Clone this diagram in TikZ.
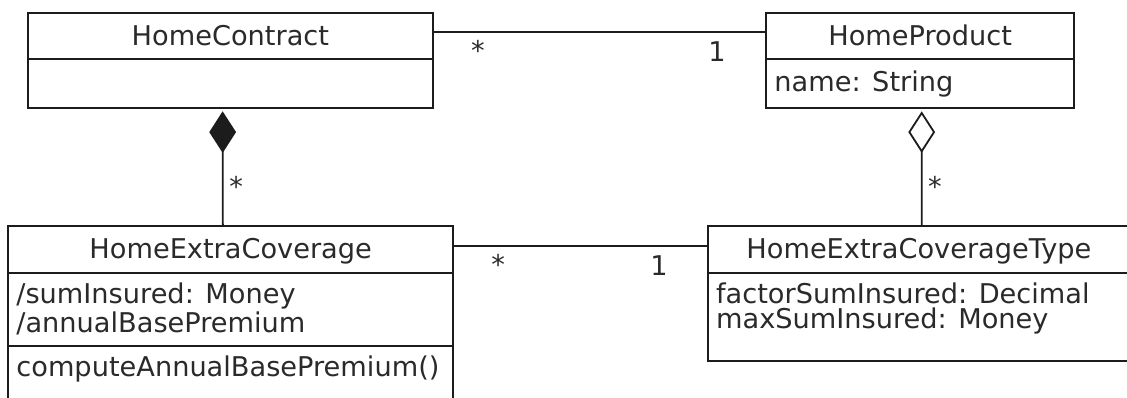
\documentclass[tikz,border=0pt]{standalone}
\usepackage{fontspec}
\setmainfont{DejaVu Sans}
\usepackage{xcolor}
\usepackage{tikz}
\usetikzlibrary{arrows.meta, positioning, calc}

\begin{document}
\begin{tikzpicture}[
    x=0.5pt, y=-0.5pt,
    every node/.style={font=\fontsize{13.6}{12.6}\selectfont, text=inkGray},
    compart/.style={
      rectangle, draw=lineGray, fill=white, line width=1pt,
      inner sep=0pt, outer sep=0pt
    },
    classTitle/.style={compart, text height=0.95em, text depth=0pt},
    entry/.style={inner sep=0pt, align=left},
    mult/.style={inner sep=0pt},
    assoc/.style={draw=lineGray, line width=0.9pt},
    compose/.style={assoc, -{Diamond[length=20.8pt, width=13.4pt, fill=lineGray]}, shorten >=1.5pt},
    aggregate/.style={assoc, -{Diamond[open, length=20.8pt, width=13.4pt, fill=white]}, shorten >=1.5pt}
  ]
    \definecolor{lineGray}{RGB}{28,28,28}
    \definecolor{inkGray}{RGB}{42,42,42}

    \useasboundingbox (0,0) rectangle (1127,397);
    \clip (0,0) rectangle (1127,397);

    % HomeContract
    \node[classTitle, minimum width=202.9pt, minimum height=23.3pt] (contractHead) at (230.4,36) {HomeContract};
    \node[compart, minimum width=202.9pt, minimum height=24.5pt, below=0pt of contractHead] (contractAttr) {};

    % HomeProduct
    \node[classTitle, minimum width=154.15pt, minimum height=23.3pt] (productHead) at (920.15,36) {HomeProduct};
    \node[compart, minimum width=154.15pt, minimum height=24.5pt, below=0pt of productHead] (productAttr) {};
    \node[entry, below right=5.8pt and 4pt of productAttr.north west] (productName) {name: String};

    % HomeExtraCoverage
    \node[classTitle, minimum width=222.65pt, minimum height=23.35pt] (coverageHead) at (230.65,249.35) {HomeExtraCoverage};
    \node[compart, minimum width=222.65pt, minimum height=36.4pt, below=0pt of coverageHead] (coverageAttr) {};
    \node[compart, minimum width=222.65pt, minimum height=42.25pt, below=0pt of coverageAttr] (coverageOps) {};
    \node[entry, below right=5pt and 4pt of coverageAttr.north west] (coverageAttrText)
      {/sumInsured: Money\\/annualBasePremium};
    \node[entry, below right=5pt and 4pt of coverageOps.north west] (coverageOpsText)
      {computeAnnualBasePremium()};

    % HomeExtraCoverageType
    \node[classTitle, minimum width=211.15pt, minimum height=23.35pt] (typeHead) at (918.85,249.35) {HomeExtraCoverageType};
    \node[compart, minimum width=211.15pt, minimum height=44.3pt, below=0pt of typeHead] (typeAttr) {};
    \node[entry, below right=5pt and 4pt of typeAttr.north west] (typeAttrText)
      {factorSumInsured: Decimal\\maxSumInsured: Money};

    % associations
    \draw[assoc] ([yshift=1.85pt]contractHead.east) --
      node[mult, pos=0.134, yshift=-9pt] (multContract) {*}
      node[mult, pos=0.853, yshift=-9.6pt] (multProduct) {1}
      ([yshift=1.85pt]productHead.west);
    \draw[assoc] ([yshift=1.7pt]coverageHead.east) --
      node[mult, pos=0.176, yshift=-9.1pt] (multCoverage) {*}
      node[mult, pos=0.809, yshift=-10pt] (multType) {1}
      ([yshift=1.7pt]typeHead.west);

    % composition and aggregation
    \draw[compose] ([xshift=-3.9pt]coverageHead.north) --
      node[mult, pos=0.334, xshift=6.65pt] (multPart) {*}
      ([xshift=-3.9pt]contractAttr.south);
    \draw[aggregate] ([xshift=1.4pt]typeHead.north) --
      node[mult, pos=0.334, xshift=6.65pt] (multKind) {*}
      ([xshift=0.78pt]productAttr.south);
\end{tikzpicture}
\end{document}
